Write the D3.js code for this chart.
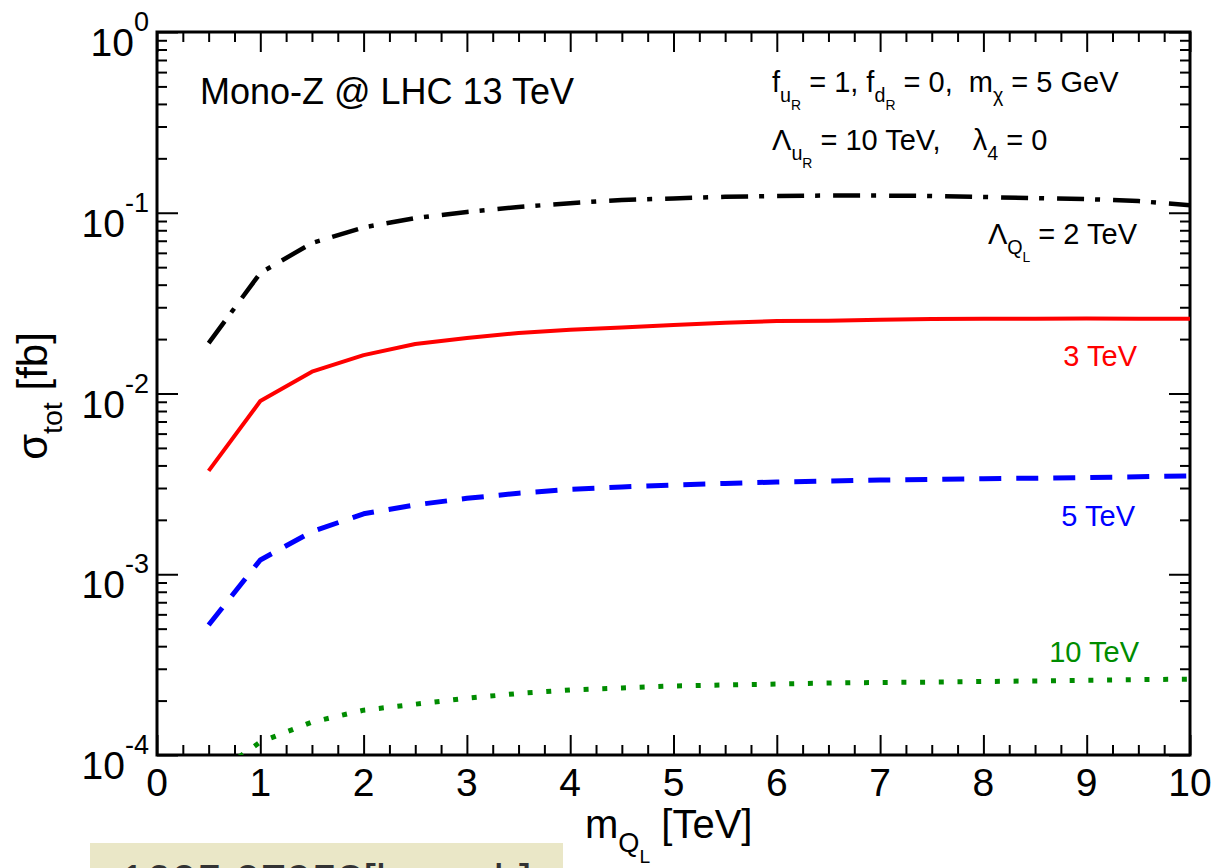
<!DOCTYPE html>
<html>
<head>
<meta charset="utf-8">
<script src="https://cdn.jsdelivr.net/npm/d3@7"></script>
<style>
  html, body { margin: 0; padding: 0; background: #fff; }
  svg { display: block; font-family: "Liberation Sans", Arial, Helvetica, sans-serif; }
</style>
</head>
<body>
<svg id="chart" width="1218" height="868"></svg>
<script>
// ---- data ----
const mQ = [0.5, 1, 1.5, 2, 2.5, 3, 3.5, 4, 4.5, 5, 5.5, 6, 6.5, 7, 7.5, 8, 8.5, 9, 9.5, 10];
const sigmaL2 = [0.0190, 0.0464, 0.068, 0.083, 0.0935, 0.101, 0.1076, 0.113, 0.1177, 0.120, 0.1226, 0.1238, 0.1245, 0.1245, 0.1238, 0.1222, 0.1205, 0.119, 0.116, 0.110];
const sigmaL3 = [0.00373, 0.00909, 0.0132, 0.0163, 0.0188, 0.0203, 0.0216, 0.0225, 0.0232, 0.0239, 0.0246, 0.0252, 0.0253, 0.0256, 0.0258, 0.0259, 0.0259, 0.0260, 0.0259, 0.0259];
const sigmaL5 = [0.000524, 0.00120, 0.00172, 0.00216, 0.00242, 0.00263, 0.00281, 0.00295, 0.00304, 0.00312, 0.00318, 0.00324, 0.00328, 0.00332, 0.00335, 0.00338, 0.00340, 0.00343, 0.00346, 0.00350];
const sigmaL10 = [0.000074, 0.000118, 0.000152, 0.000177, 0.000191, 0.000206, 0.000219, 0.000229, 0.000235, 0.000241, 0.000244, 0.000247, 0.000250, 0.000252, 0.000253, 0.000255, 0.000257, 0.000259, 0.000261, 0.000263];
const seriesNames = ["2 TeV", "3 TeV", "5 TeV", "10 TeV"];
const xTicks = [0, 1, 2, 3, 4, 5, 6, 7, 8, 9, 10];
const yExponents = [0, -1, -2, -3, -4];

// ---- layout ----
const svg = d3.select("#chart");
const L = 157, R = 1190, T = 32, B = 755;
const x = d3.scaleLinear().domain([0, 10]).range([L, R]);
const y = d3.scaleLog().domain([1e-4, 1]).range([B, T]);
const FONT = 39;

svg.append("rect").attr("width", 1218).attr("height", 868).attr("fill", "#fff");

svg.append("clipPath").attr("id", "clip").append("rect")
  .attr("x", L).attr("y", T).attr("width", R - L).attr("height", B - T);

const xMinor = d3.range(0, 10.001, 0.25).filter(v => Math.abs(v - Math.round(v)) > 1e-6);
const yMinor = [];
for (let e = -4; e < 0; e++) for (let k = 2; k <= 9; k++) yMinor.push(k * Math.pow(10, e));
const yMajor = yExponents.map(e => Math.pow(10, e));

function styleAxis(g) {
  g.selectAll(".domain").remove();
  g.selectAll(".tick line").attr("stroke", "#000").attr("stroke-width", 2);
  g.selectAll(".tick text").remove();
}

svg.append("g").attr("transform", `translate(0,${B})`)
  .call(d3.axisBottom(x).tickValues(xTicks).tickSize(-20).tickFormat("")).call(styleAxis);
svg.append("g").attr("transform", `translate(0,${B})`)
  .call(d3.axisBottom(x).tickValues(xMinor).tickSize(-10).tickFormat("")).call(styleAxis);
svg.append("g").attr("transform", `translate(0,${T})`)
  .call(d3.axisTop(x).tickValues(xTicks).tickSize(-20).tickFormat("")).call(styleAxis);
svg.append("g").attr("transform", `translate(0,${T})`)
  .call(d3.axisTop(x).tickValues(xMinor).tickSize(-10).tickFormat("")).call(styleAxis);
svg.append("g").attr("transform", `translate(${L},0)`)
  .call(d3.axisLeft(y).tickValues(yMajor).tickSize(-21).tickFormat("")).call(styleAxis);
svg.append("g").attr("transform", `translate(${L},0)`)
  .call(d3.axisLeft(y).tickValues(yMinor).tickSize(-10).tickFormat("")).call(styleAxis);
svg.append("g").attr("transform", `translate(${R},0)`)
  .call(d3.axisRight(y).tickValues(yMajor).tickSize(-21).tickFormat("")).call(styleAxis);
svg.append("g").attr("transform", `translate(${R},0)`)
  .call(d3.axisRight(y).tickValues(yMinor).tickSize(-10).tickFormat("")).call(styleAxis);

svg.append("rect").attr("x", L).attr("y", T).attr("width", R - L).attr("height", B - T)
  .attr("fill", "none").attr("stroke", "#000").attr("stroke-width", 3);

// x tick labels
svg.append("g").selectAll("text").data(xTicks).join("text")
  .attr("x", d => x(d)).attr("y", B + 41)
  .attr("text-anchor", "middle").attr("font-size", FONT).attr("fill", "#000")
  .text(d => d);

// y tick labels 10^n
yExponents.forEach(e => {
  const t = svg.append("text").attr("x", 149).attr("y", y(Math.pow(10, e)) + 24)
    .attr("text-anchor", "end").attr("font-size", FONT).attr("fill", "#000");
  t.append("tspan").text("10");
  t.append("tspan").attr("font-size", 27).attr("dy", -25).text(String(e));
});

function rich(g, xx, yy, S, parts, anchor, color) {
  const sizes = {0: S, 1: S * 0.68, 2: S * 0.48, "-1": S * 0.68};
  const offs = {0: 0, 1: S * 0.36, 2: S * 0.62, "-1": -S * 0.5};
  const t = g.append("text").attr("x", xx).attr("y", yy).attr("font-size", S)
    .attr("text-anchor", anchor || "start").attr("fill", color || "#000");
  let prev = 0;
  parts.forEach(([txt, lev]) => {
    const o = offs[lev];
    t.append("tspan").attr("font-size", sizes[lev]).attr("dy", o - prev)
      .attr("xml:space", "preserve").style("white-space", "pre").text(txt);
    prev = o;
  });
  return t;
}

// curves
const line = d3.line().x(d => x(d[0])).y(d => y(d[1]));
const series = [
  {vals: sigmaL2, color: "#000", dash: "27,11,5,13", w: 4.5},
  {vals: sigmaL3, color: "#ff0000", dash: null, w: 4},
  {vals: sigmaL5, color: "#0000ff", dash: "22,15", w: 5},
  {vals: sigmaL10, color: "#008c00", dash: "5,13.7", w: 5}
];
const gc = svg.append("g").attr("clip-path", "url(#clip)");
series.forEach(s => {
  gc.append("path").datum(mQ.map((m, i) => [m, s.vals[i]]))
    .attr("d", line).attr("fill", "none").attr("stroke", s.color)
    .attr("stroke-width", s.w).attr("stroke-dasharray", s.dash)
    .attr("stroke-linejoin", "round");
});

// curve labels
const LS = 29;
rich(svg, 1137, 244, LS, [["\u039B", 0], ["Q", 1], ["L", 2], [" = " + seriesNames[0], 0]], "end", "#000");
svg.append("text").attr("x", 1137).attr("y", 366).attr("text-anchor", "end").attr("font-size", LS).attr("fill", "#ff0000").text(seriesNames[1]);
svg.append("text").attr("x", 1135).attr("y", 526).attr("text-anchor", "end").attr("font-size", LS).attr("fill", "#0000ff").text(seriesNames[2]);
svg.append("text").attr("x", 1139).attr("y", 662).attr("text-anchor", "end").attr("font-size", LS).attr("fill", "#008c00").text(seriesNames[3]);

// annotations
svg.append("text").attr("x", 200).attr("y", 104).attr("font-size", 36).attr("fill", "#000").text("Mono-Z @ LHC 13 TeV");
rich(svg, 772, 92, 29, [["f", 0], ["u", 1], ["R", 2], [" = 1, f", 0], ["d", 1], ["R", 2], [" = 0,  m", 0], ["\u03C7", 1], [" = 5 GeV", 0]]);
rich(svg, 772, 150, 29, [["\u039B", 0], ["u", 1], ["R", 2], [" = 10 TeV,    \u03BB", 0], ["4", 1], [" = 0", 0]]);

// axis titles
rich(svg, 585, 838, 40, [["m", 0], ["Q", 1], ["L", 2], [" [TeV]", 0]]);
const yl = rich(svg, 0, 0, 42, [["\u03C3", 0], ["tot", 1], [" [fb]", 0]], "middle");
yl.attr("transform", "translate(47,396) rotate(-90)");

// source box at bottom
svg.append("rect").attr("x", 90).attr("y", 843).attr("width", 473).attr("height", 40).attr("fill", "#EAE7C7");
svg.append("text").attr("x", 120).attr("y", 897).attr("font-size", 46).attr("fill", "#333").text("1605.07958[hep-ph]");
</script>
</body>
</html>
